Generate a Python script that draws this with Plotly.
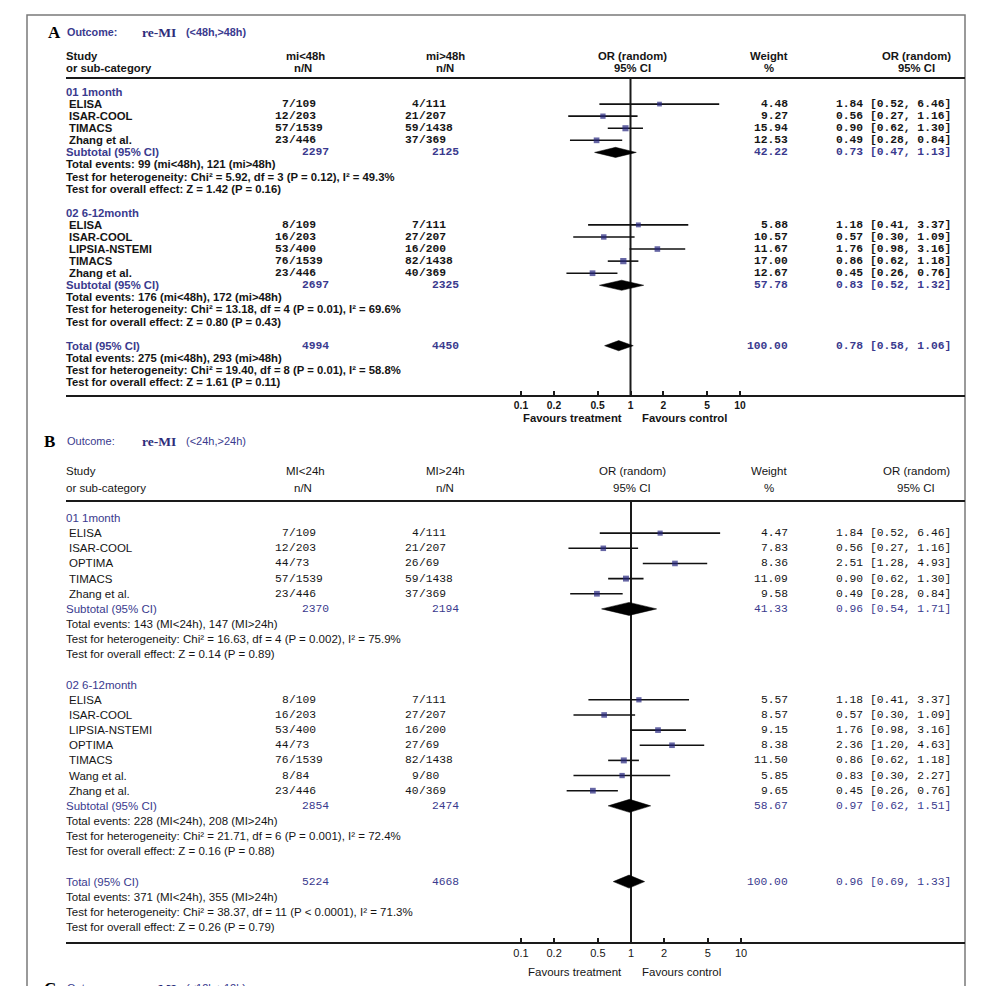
import plotly.graph_objects as go

# ---------------- DATA ----------------
# Panel A: re-MI (<48h, >48h)
A_g1_name = "01 1month"
A_g1_studies = ["ELISA", "ISAR-COOL", "TIMACS", "Zhang et al."]
A_g1_ev1 = [7, 12, 57, 23]
A_g1_n1 = [109, 203, 1539, 446]
A_g1_ev2 = [4, 21, 59, 37]
A_g1_n2 = [111, 207, 1438, 369]
A_g1_w = [4.48, 9.27, 15.94, 12.53]
A_g1_or = [1.84, 0.56, 0.90, 0.49]
A_g1_lo = [0.52, 0.27, 0.62, 0.28]
A_g1_hi = [6.46, 1.16, 1.30, 0.84]
A_g1_sub_N = [2297, 2125]
A_g1_sub_w = 42.22
A_g1_sub_ci = [0.73, 0.47, 1.13]
A_g1_stats = ["Total events: 99 (mi&lt;48h), 121 (mi&gt;48h)",
              "Test for heterogeneity: Chi² = 5.92, df = 3 (P = 0.12), I² = 49.3%",
              "Test for overall effect: Z = 1.42 (P = 0.16)"]

A_g2_name = "02 6-12month"
A_g2_studies = ["ELISA", "ISAR-COOL", "LIPSIA-NSTEMI", "TIMACS", "Zhang et al."]
A_g2_ev1 = [8, 16, 53, 76, 23]
A_g2_n1 = [109, 203, 400, 1539, 446]
A_g2_ev2 = [7, 27, 16, 82, 40]
A_g2_n2 = [111, 207, 200, 1438, 369]
A_g2_w = [5.88, 10.57, 11.67, 17.00, 12.67]
A_g2_or = [1.18, 0.57, 1.76, 0.86, 0.45]
A_g2_lo = [0.41, 0.30, 0.98, 0.62, 0.26]
A_g2_hi = [3.37, 1.09, 3.16, 1.18, 0.76]
A_g2_sub_N = [2697, 2325]
A_g2_sub_w = 57.78
A_g2_sub_ci = [0.83, 0.52, 1.32]
A_g2_stats = ["Total events: 176 (mi&lt;48h), 172 (mi&gt;48h)",
              "Test for heterogeneity: Chi² = 13.18, df = 4 (P = 0.01), I² = 69.6%",
              "Test for overall effect: Z = 0.80 (P = 0.43)"]

A_tot_N = [4994, 4450]
A_tot_w = 100.00
A_tot_ci = [0.78, 0.58, 1.06]
A_tot_stats = ["Total events: 275 (mi&lt;48h), 293 (mi&gt;48h)",
               "Test for heterogeneity: Chi² = 19.40, df = 8 (P = 0.01), I² = 58.8%",
               "Test for overall effect: Z = 1.61 (P = 0.11)"]
A_cols = ["mi&lt;48h", "mi&gt;48h"]
A_range = "(&lt;48h,&gt;48h)"

# Panel B: re-MI (<24h, >24h)
B_g1_name = "01 1month"
B_g1_studies = ["ELISA", "ISAR-COOL", "OPTIMA", "TIMACS", "Zhang et al."]
B_g1_ev1 = [7, 12, 44, 57, 23]
B_g1_n1 = [109, 203, 73, 1539, 446]
B_g1_ev2 = [4, 21, 26, 59, 37]
B_g1_n2 = [111, 207, 69, 1438, 369]
B_g1_w = [4.47, 7.83, 8.36, 11.09, 9.58]
B_g1_or = [1.84, 0.56, 2.51, 0.90, 0.49]
B_g1_lo = [0.52, 0.27, 1.28, 0.62, 0.28]
B_g1_hi = [6.46, 1.16, 4.93, 1.30, 0.84]
B_g1_sub_N = [2370, 2194]
B_g1_sub_w = 41.33
B_g1_sub_ci = [0.96, 0.54, 1.71]
B_g1_stats = ["Total events: 143 (MI&lt;24h), 147 (MI&gt;24h)",
              "Test for heterogeneity: Chi² = 16.63, df = 4 (P = 0.002), I² = 75.9%",
              "Test for overall effect: Z = 0.14 (P = 0.89)"]

B_g2_name = "02 6-12month"
B_g2_studies = ["ELISA", "ISAR-COOL", "LIPSIA-NSTEMI", "OPTIMA", "TIMACS", "Wang et al.", "Zhang et al."]
B_g2_ev1 = [8, 16, 53, 44, 76, 8, 23]
B_g2_n1 = [109, 203, 400, 73, 1539, 84, 446]
B_g2_ev2 = [7, 27, 16, 27, 82, 9, 40]
B_g2_n2 = [111, 207, 200, 69, 1438, 80, 369]
B_g2_w = [5.57, 8.57, 9.15, 8.38, 11.50, 5.85, 9.65]
B_g2_or = [1.18, 0.57, 1.76, 2.36, 0.86, 0.83, 0.45]
B_g2_lo = [0.41, 0.30, 0.98, 1.20, 0.62, 0.30, 0.26]
B_g2_hi = [3.37, 1.09, 3.16, 4.63, 1.18, 2.27, 0.76]
B_g2_sub_N = [2854, 2474]
B_g2_sub_w = 58.67
B_g2_sub_ci = [0.97, 0.62, 1.51]
B_g2_stats = ["Total events: 228 (MI&lt;24h), 208 (MI&gt;24h)",
              "Test for heterogeneity: Chi² = 21.71, df = 6 (P = 0.001), I² = 72.4%",
              "Test for overall effect: Z = 0.16 (P = 0.88)"]

B_tot_N = [5224, 4668]
B_tot_w = 100.00
B_tot_ci = [0.96, 0.69, 1.33]
B_tot_stats = ["Total events: 371 (MI&lt;24h), 355 (MI&gt;24h)",
               "Test for heterogeneity: Chi² = 38.37, df = 11 (P &lt; 0.0001), I² = 71.3%",
               "Test for overall effect: Z = 0.26 (P = 0.79)"]
B_cols = ["MI&lt;24h", "MI&gt;24h"]
B_range = "(&lt;24h,&gt;24h)"

C_range = "(&lt;12h,&gt;12h)"

tick_vals = [0.1, 0.2, 0.5, 1, 2, 5, 10]
tick_text = ["0.1", "0.2", "0.5", "1", "2", "5", "10"]

# ---------------- STYLE / GEOMETRY ----------------
W, H = 1003, 986
BLUE = "#3a3a8e"
BLACK = "#151515"
SQ = "#25257e"
SANS = "Liberation Sans, Arial, sans-serif"
MONO = "Liberation Mono, Courier New, monospace"
SERIF = "Liberation Serif, Times New Roman, serif"


def fx(p):
    return p / W


def fy(p):
    return 1 - p / H


fig = go.Figure()
ann = []


def text(t, x, y, yref, anchor="left", color=BLACK, family=SANS, size=10.5, weight="normal"):
    ann.append(dict(text=t, x=fx(x), y=y, xref="paper", yref=yref, xanchor=anchor,
                    yanchor="middle", showarrow=False, borderpad=0, borderwidth=0,
                    font=dict(family=family, size=size, color=color, weight=weight)))


def build_panel(ax, geo, groups, tot, cols, rng, letter):
    xa = "x" if ax == 1 else "x%d" % ax
    ya = "y" if ax == 1 else "y%d" % ax
    r0, dy, top, bot = geo["r0"], geo["dy"], geo["top"], geo["bot"]
    one, dec = geo["one"], geo["dec"]
    wt = geo["weight"]
    fs, ms, tfs = geo["fs"], geo["ms"], geo["ttl"]

    # axes
    yr = [(bot - r0) / dy, (top - r0) / dy]
    xr = [(66 - one) / dec, (965 - one) / dec]
    fig.update_layout(**{
        ("xaxis" if ax == 1 else "xaxis%d" % ax): dict(
            type="log", domain=[fx(66), fx(965)], range=xr, anchor=ya,
            showgrid=False, zeroline=False, showline=True, mirror=True,
            linecolor="#1a1a1a", linewidth=2, ticks="inside", ticklen=4,
            tickwidth=1.5, tickcolor="#1a1a1a", tickvals=tick_vals, ticktext=tick_text,
            tickfont=dict(family=SANS, size=geo["tfs"], color=BLACK, weight=wt),
            fixedrange=True),
        ("yaxis" if ax == 1 else "yaxis%d" % ax): dict(
            domain=[fy(bot), fy(top)], range=yr, anchor=xa, visible=False,
            fixedrange=True),
    })

    # title
    ty = fy(geo["title"])
    text(letter, geo["lx"], ty, "paper", family=SERIF, size=17, weight="bold", color="#000")
    text("Outcome:", 67, ty, "paper", color=BLUE, size=tfs, weight=wt)
    text("re-MI", 142, ty, "paper", color="#2d2d7a", family=SERIF, size=13.5, weight="bold")
    text(rng, 186, ty, "paper", color=BLUE, size=tfs, weight=wt)

    # column headers
    h1, h2 = fy(geo["h1"]), fy(geo["h2"])
    text("Study", 66, h1, "paper", size=fs, weight=wt)
    text("or sub-category", 66, h2, "paper", size=fs, weight=wt)
    text(cols[0], 305, h1, "paper", anchor="center", size=fs, weight=wt)
    text("n/N", 303, h2, "paper", anchor="center", size=fs, weight=wt)
    text(cols[1], 445, h1, "paper", anchor="center", size=fs, weight=wt)
    text("n/N", 445, h2, "paper", anchor="center", size=fs, weight=wt)
    text("OR (random)", 632, h1, "paper", anchor="center", size=fs, weight=wt)
    text("95% CI", 632, h2, "paper", anchor="center", size=fs, weight=wt)
    text("Weight", 769, h1, "paper", anchor="center", size=fs, weight=wt)
    text("%", 769, h2, "paper", anchor="center", size=fs, weight=wt)
    text("OR (random)", 916, h1, "paper", anchor="center", size=fs, weight=wt)
    text("95% CI", 916, h2, "paper", anchor="center", size=fs, weight=wt)

    lx, ly, sx, sy, ss = [], [], [], [], []
    diamonds = []
    row = 0
    mfs = geo["mfs"]

    def summary_row(label, N, w, ci, r):
        text(label, 66, r, ya, color=BLUE, size=fs, weight=wt)
        text(str(N[0]), 315, r, ya, anchor="center", color=BLUE, family=MONO, size=mfs, weight=wt)
        text(str(N[1]), 445, r, ya, anchor="center", color=BLUE, family=MONO, size=mfs, weight=wt)
        text("%.2f" % w, 788, r, ya, anchor="right", color=BLUE, family=MONO, size=mfs, weight=wt)
        text("%.2f [%.2f, %.2f]" % tuple(ci), 951, r, ya, anchor="right", color=BLUE,
             family=MONO, size=mfs, weight=wt)
        diamonds.append((ci, r))

    for g in groups:
        text(g["name"], 66, row, ya, color=BLUE, size=fs, weight=wt)
        row += 1
        for i, s in enumerate(g["studies"]):
            text(s, 69, row, ya, size=fs, weight=wt)
            text(str(g["ev1"][i]), 289, row, ya, anchor="right", family=MONO, size=mfs, weight=wt)
            text("/" + str(g["n1"][i]), 289, row, ya, anchor="left", family=MONO, size=mfs, weight=wt)
            text(str(g["ev2"][i]), 419, row, ya, anchor="right", family=MONO, size=mfs, weight=wt)
            text("/" + str(g["n2"][i]), 419, row, ya, anchor="left", family=MONO, size=mfs, weight=wt)
            text("%.2f" % g["w"][i], 788, row, ya, anchor="right", family=MONO, size=mfs, weight=wt)
            text("%.2f [%.2f, %.2f]" % (g["or"][i], g["lo"][i], g["hi"][i]), 951, row, ya,
                 anchor="right", family=MONO, size=mfs, weight=wt)
            lx += [g["lo"][i], g["hi"][i], None]
            ly += [row, row, None]
            sx.append(g["or"][i])
            sy.append(row)
            ss.append(ms + 0.12 * g["w"][i])
            row += 1
        summary_row("Subtotal (95% CI)", g["sub_N"], g["sub_w"], g["sub_ci"], row)
        row += 1
        for st in g["stats"]:
            text(st, 66, row, ya, size=fs, weight=wt)
            row += 1
        row += 1
    summary_row("Total (95% CI)", tot["N"], tot["w"], tot["ci"], row)
    row += 1
    for st in tot["stats"]:
        text(st, 66, row, ya, size=fs, weight=wt)
        row += 1

    # vertical line of no effect
    fig.add_trace(go.Scatter(x=[1, 1], y=yr, mode="lines", xaxis=xa, yaxis=ya,
                             line=dict(color="#1a1a1a", width=2), hoverinfo="skip"))
    # CI lines
    fig.add_trace(go.Scatter(x=lx, y=ly, mode="lines", xaxis=xa, yaxis=ya,
                             line=dict(color="#111", width=1.6), hoverinfo="skip"))
    # squares
    fig.add_trace(go.Scatter(x=sx, y=sy, mode="markers", xaxis=xa, yaxis=ya,
                             marker=dict(symbol="square", size=ss, color=SQ, line=dict(width=0))))
    # diamonds
    hh = geo["dh"]
    for ci, r in diamonds:
        est, lo, hi = ci
        fig.add_trace(go.Scatter(x=[lo, est, hi, est, lo], y=[r, r - hh, r, r + hh, r],
                                 mode="lines", fill="toself", fillcolor="#000",
                                 line=dict(color="#000", width=0.5), xaxis=xa, yaxis=ya,
                                 hoverinfo="skip"))

    # favours labels
    fyv = fy(geo["fav"])
    text("Favours treatment", 622, fyv, "paper", anchor="right", size=fs, weight=wt)
    text("Favours control", 642, fyv, "paper", anchor="left", size=fs, weight=wt)


geoA = dict(r0=92, dy=12.08, top=79, bot=395, one=630.5, dec=109.5, title=32, h1=56, h2=68,
            fav=418, weight="bold", fs=11.3, ttl=10.8, mfs=11.3, tfs=10.3, ms=4.2, dh=0.42, lx=48)
geoB = dict(r0=518, dy=15.15, top=502, bot=942, one=631, dec=110, title=441, h1=471, h2=488,
            fav=972, weight="normal", fs=11.5, ttl=11, mfs=11.3, tfs=11, ms=4.6, dh=0.43, lx=44)

groupsA = [
    dict(name=A_g1_name, studies=A_g1_studies, ev1=A_g1_ev1, n1=A_g1_n1, ev2=A_g1_ev2, n2=A_g1_n2,
         w=A_g1_w, **{"or": A_g1_or}, lo=A_g1_lo, hi=A_g1_hi, sub_N=A_g1_sub_N, sub_w=A_g1_sub_w,
         sub_ci=A_g1_sub_ci, stats=A_g1_stats),
    dict(name=A_g2_name, studies=A_g2_studies, ev1=A_g2_ev1, n1=A_g2_n1, ev2=A_g2_ev2, n2=A_g2_n2,
         w=A_g2_w, **{"or": A_g2_or}, lo=A_g2_lo, hi=A_g2_hi, sub_N=A_g2_sub_N, sub_w=A_g2_sub_w,
         sub_ci=A_g2_sub_ci, stats=A_g2_stats),
]
groupsB = [
    dict(name=B_g1_name, studies=B_g1_studies, ev1=B_g1_ev1, n1=B_g1_n1, ev2=B_g1_ev2, n2=B_g1_n2,
         w=B_g1_w, **{"or": B_g1_or}, lo=B_g1_lo, hi=B_g1_hi, sub_N=B_g1_sub_N, sub_w=B_g1_sub_w,
         sub_ci=B_g1_sub_ci, stats=B_g1_stats),
    dict(name=B_g2_name, studies=B_g2_studies, ev1=B_g2_ev1, n1=B_g2_n1, ev2=B_g2_ev2, n2=B_g2_n2,
         w=B_g2_w, **{"or": B_g2_or}, lo=B_g2_lo, hi=B_g2_hi, sub_N=B_g2_sub_N, sub_w=B_g2_sub_w,
         sub_ci=B_g2_sub_ci, stats=B_g2_stats),
]

build_panel(1, geoA, groupsA, dict(N=A_tot_N, w=A_tot_w, ci=A_tot_ci, stats=A_tot_stats), A_cols, A_range, "A")
build_panel(2, geoB, groupsB, dict(N=B_tot_N, w=B_tot_w, ci=B_tot_ci, stats=B_tot_stats), B_cols, B_range, "B")

# Panel C heading (cut off at bottom of the page, as in the source)
cy = fy(988)
text("C", 44, cy, "paper", family=SERIF, size=17, weight="bold", color="#000")
text("Outcome:", 67, cy, "paper", color=BLUE, size=11)
text("re-MI", 142, cy, "paper", color="#2d2d7a", family=SERIF, size=13.5, weight="bold")
text(C_range, 186, cy, "paper", color=BLUE, size=11)

# outer frame
shapes = [dict(type="rect", xref="paper", yref="paper", x0=fx(27), x1=fx(965), y0=fy(15), y1=fy(1010),
               line=dict(color="#7a7a7a", width=1.5), fillcolor="rgba(0,0,0,0)", layer="below")]

fig.update_layout(width=W, height=H, margin=dict(l=0, r=0, t=0, b=0), autosize=False,
                  paper_bgcolor="white", plot_bgcolor="rgba(0,0,0,0)", showlegend=False,
                  annotations=ann, shapes=shapes)

fig.write_html("out.html", config={"displayModeBar": False},
               post_script="document.body.style.margin='0';document.body.style.overflow='hidden';")
